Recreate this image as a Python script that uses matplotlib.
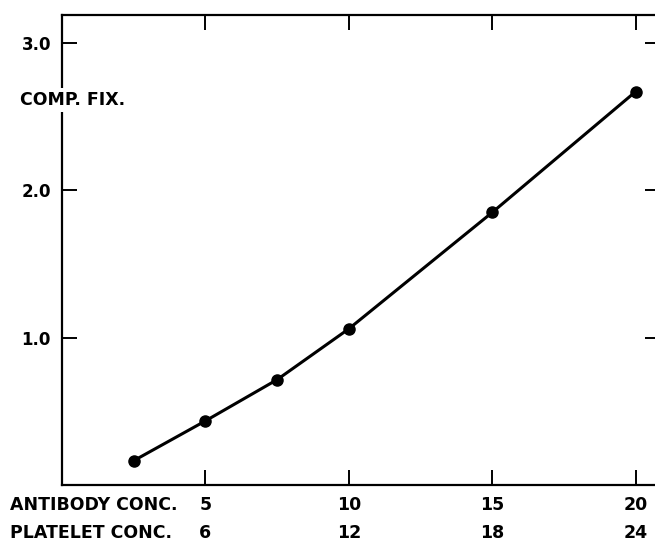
import matplotlib.pyplot as plt
from matplotlib.transforms import blended_transform_factory

# data
antibody = [2.5, 5, 7.5, 10, 15, 20]
comp_fix = [0.165, 0.435, 0.715, 1.06, 1.85, 2.67]

antibody_ticks = [5, 10, 15, 20]
platelet_ticks = [6, 12, 18, 24]
y_ticks = [1.0, 2.0, 3.0]
y_labels = ['1.0', '2.0', '3.0']

plt.rcParams['font.family'] = 'DejaVu Sans'
plt.rcParams['font.weight'] = 'bold'

fig = plt.figure(figsize=(6.55, 5.42), dpi=100)
ax = fig.add_axes([62 / 655, 1 - 485 / 542, 598 / 655, 470 / 542])

ax.plot(antibody, comp_fix, color='black', lw=2.2, marker='o', ms=8,
        solid_joinstyle='round')

ax.set_xlim(0, 20.85)
ax.set_ylim(0, 3.19)

fs = 12.5
ax.set_xticks(antibody_ticks)
ax.set_xticklabels([str(a) for a in antibody_ticks], fontsize=fs, fontweight='bold')
ax.set_yticks(y_ticks)
ax.set_yticklabels(y_labels, fontsize=12, fontweight='bold')

ax.tick_params(direction='in', length=11, width=1.4, top=True, right=True)
ax.tick_params(axis='x', pad=8)
ax.tick_params(axis='y', pad=8)
for s in ax.spines.values():
    s.set_linewidth(1.6)
ax.spines['right'].set_visible(False)

# second row of x labels: platelet conc. under each antibody tick
trans = blended_transform_factory(ax.transData, fig.transFigure)
for a, p in zip(antibody_ticks, platelet_ticks):
    ax.text(a, 1 - 533 / 542, str(p), transform=trans, fontsize=fs,
            fontweight='bold', ha='center', va='center', clip_on=False)

# row labels under the x axis (figure coords, measured from the top)
fig.text(10 / 655, 1 - 505 / 542, 'ANTIBODY CONC.', fontsize=fs,
         fontweight='bold', va='center', ha='left')
fig.text(10 / 655, 1 - 533 / 542, 'PLATELET CONC.', fontsize=fs,
         fontweight='bold', va='center', ha='left')

ax.text(20 / 655, 1 - 100 / 542, 'COMP. FIX.', transform=fig.transFigure,
        fontsize=fs, fontweight='bold', va='center', ha='left',
        bbox=dict(facecolor='white', edgecolor='none', pad=2), zorder=5)

fig.savefig('out.png', dpi=100)
